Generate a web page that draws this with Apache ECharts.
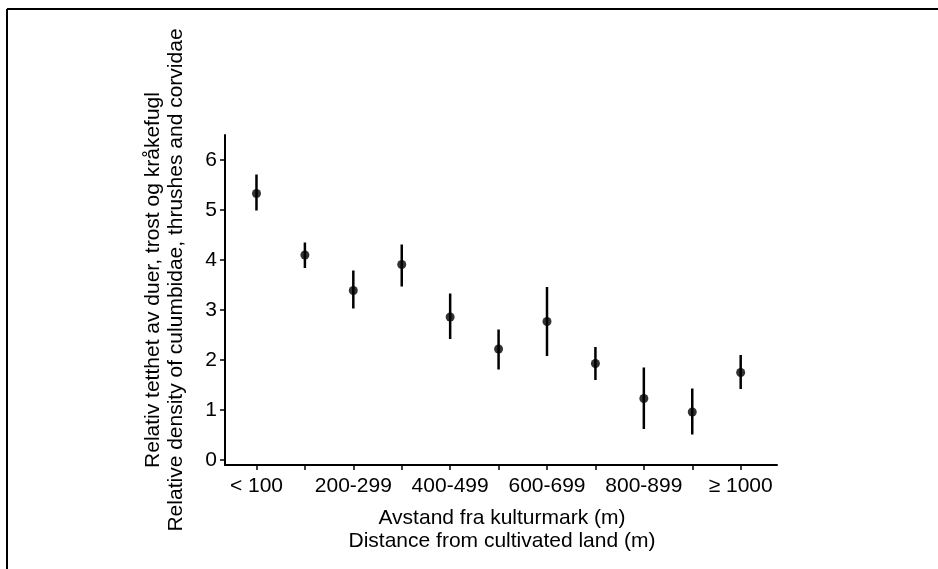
<!DOCTYPE html>
<html>
<head>
<meta charset="utf-8">
<script src="https://cdn.jsdelivr.net/npm/echarts@6/dist/echarts.min.js"></script>
<style>html,body{margin:0;padding:0;background:#fff;}#c{width:938px;height:569px;}</style>
</head>
<body>
<div id="c"></div>
<script>
const categories = ["< 100","100-199","200-299","300-399","400-499","500-599","600-699","700-799","800-899","900-999","≥ 1000"];
const means = [5.33, 4.10, 3.39, 3.91, 2.86, 2.22, 2.77, 1.93, 1.23, 0.96, 1.75];
const upper = [5.71, 4.35, 3.79, 4.31, 3.33, 2.61, 3.46, 2.26, 1.85, 1.43, 2.10];
const lower = [4.99, 3.84, 3.03, 3.47, 2.42, 1.81, 2.08, 1.60, 0.62, 0.51, 1.42];
const yTicks = [0, 1, 2, 3, 4, 5, 6];
const xLabelIdx = [0, 2, 4, 6, 8, 10];
const yTitle1 = "Relativ tetthet av duer, trost og kråkefugl";
const yTitle2 = "Relative density of culumbidae, thrushes and corvidae";
const xTitle1 = "Avstand fra kulturmark (m)";
const xTitle2 = "Distance from cultivated land (m)";

const font = "'Liberation Sans', Arial, sans-serif";
const chart = echarts.init(document.getElementById('c'));
const idx = categories.map((_, i) => i);
chart.setOption({
  backgroundColor: '#fff',
  animation: false,
  grid: { left: 225, right: 161, top: 135, bottom: 104 },
  xAxis: {
    type: 'value', min: -0.65, max: 10.75,
    splitLine: { show: false },
    axisLine: { onZero: false, lineStyle: { color: '#000', width: 2 } },
    axisTick: { show: true, length: 5, customValues: idx, lineStyle: { color: '#000', width: 1.5 } },
    axisLabel: { customValues: xLabelIdx, formatter: v => categories[Math.round(v)], color: '#000', fontFamily: font, fontSize: 21, margin: 11 }
  },
  yAxis: {
    type: 'value', min: -0.1, max: 6.5,
    splitLine: { show: false },
    axisLine: { show: true, onZero: false, lineStyle: { color: '#000', width: 2 } },
    axisTick: { show: true, length: 5, customValues: yTicks, lineStyle: { color: '#000', width: 1.5 } },
    axisLabel: { customValues: yTicks, color: '#000', fontFamily: font, fontSize: 21, margin: 8 }
  },
  graphic: [
    { type: 'line', shape: { x1: 7, y1: 9, x2: 938, y2: 9 }, style: { stroke: '#000', lineWidth: 2 } },
    { type: 'line', shape: { x1: 7, y1: 9, x2: 7, y2: 569 }, style: { stroke: '#000', lineWidth: 2 } },
    { type: 'text', x: 153, y: 280, rotation: Math.PI / 2, style: { text: yTitle1, fill: '#000', font: '21px ' + font, textAlign: 'center', textVerticalAlign: 'middle' } },
    { type: 'text', x: 176, y: 280, rotation: Math.PI / 2, style: { text: yTitle2, fill: '#000', font: '21px ' + font, textAlign: 'center', textVerticalAlign: 'middle' } },
    { type: 'text', x: 502, y: 518, style: { text: xTitle1, fill: '#000', font: '21px ' + font, textAlign: 'center', textVerticalAlign: 'middle' } },
    { type: 'text', x: 502, y: 541, style: { text: xTitle2, fill: '#000', font: '21px ' + font, textAlign: 'center', textVerticalAlign: 'middle' } }
  ],
  series: [
    {
      type: 'custom',
      data: idx.map(i => [i, lower[i], upper[i]]),
      renderItem: (params, api) => {
        const p1 = api.coord([api.value(0), api.value(1)]);
        const p2 = api.coord([api.value(0), api.value(2)]);
        return { type: 'line', shape: { x1: p1[0], y1: p1[1], x2: p2[0], y2: p2[1] }, style: { stroke: '#000', lineWidth: 2.5 } };
      },
      z: 2
    },
    {
      type: 'scatter',
      data: idx.map(i => [i, means[i]]),
      symbol: 'circle', symbolSize: 9,
      itemStyle: { color: '#000' },
      z: 3
    }
  ]
});
</script>
</body>
</html>
